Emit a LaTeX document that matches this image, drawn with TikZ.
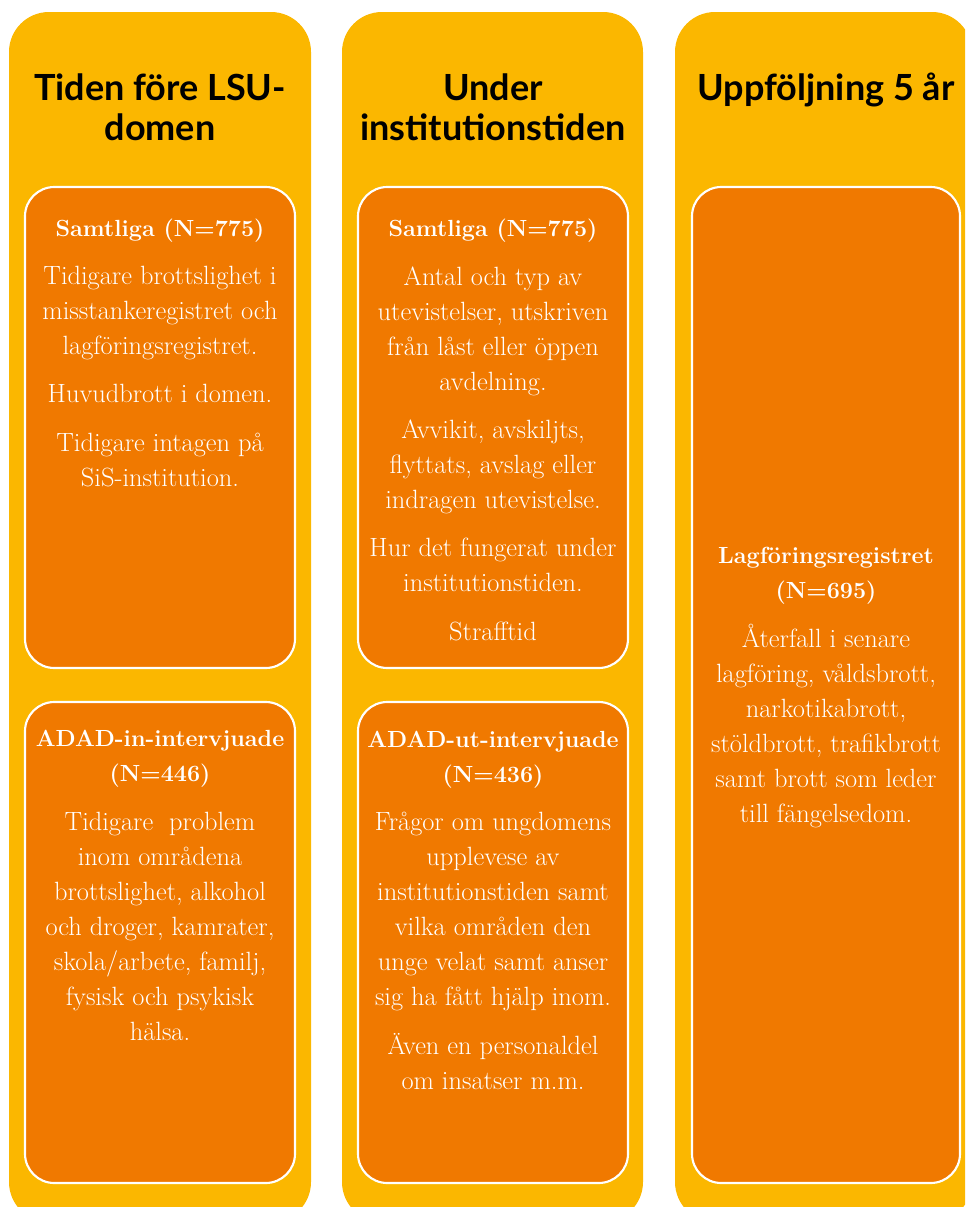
\documentclass[tikz,border=0pt]{standalone}
\usepackage{fontspec}
\newfontfamily\headfont{Lato}
\definecolor{colbg}{HTML}{FBB700}
\definecolor{boxbg}{HTML}{F07900}
\newcommand\boxtitle[1]{{\fontsize{17.5}{26.25}\selectfont\bfseries #1}}
\begin{document}
\begin{tikzpicture}[x=0.75pt,y=-0.75pt,
    column/.style={fill=colbg,rounded corners=30pt},
    panel/.style={fill=boxbg,draw=white,line width=1.6pt,rounded corners=22pt},
    head/.style={font=\headfont\bfseries\fontsize{27}{30}\selectfont,align=center,anchor=base,inner sep=0pt},
    body/.style={font=\fontsize{19.8}{26.25}\selectfont,text=white,align=center,anchor=base,inner sep=0pt}]
  \useasboundingbox (0,0) rectangle (965,1207);
  \clip (0,0) rectangle (965,1207);
  % columns
  \fill[column] (9,12) rectangle (311,1222);
  \fill[column] (342,12) rectangle (643,1222);
  \fill[column] (675,12) rectangle (972,1222);
  % panels
  \filldraw[panel] (25,187) rectangle (295,668);
  \filldraw[panel] (25,702) rectangle (295,1183);
  \filldraw[panel] (358,187) rectangle (628,668);
  \filldraw[panel] (358,702) rectangle (628,1183);
  \filldraw[panel] (692,187) rectangle (960,1183);
  % headings (base = last line)
  \node[head] (before) at (160,140) {Tiden före LSU-\\domen};
  \node[head] (during) at (493,140) {Under\\institutionstiden};
  \node[head] (after) at (826,100) {Uppföljning 5 år};
  % texts
  \node[body] (beforeall) at (160,486) {\boxtitle{Samtliga (N=775)}\\[10pt]
    Tidigare brottslighet i\\misstankeregistret och\\lagföringsregistret.\\[10pt]
    Huvudbrott i domen.\\[10pt]
    Tidigare intagen på\\SiS-institution.};
  \node[body] (beforeadad) at (160,1040) {\boxtitle{ADAD-in-intervjuade}\\\boxtitle{(N=446)}\\[10pt]
    Tidigare\ \ problem\\inom områdena\\brottslighet, alkohol\\och droger, kamrater,\\skola/arbete, familj,\\fysisk och psykisk\\hälsa.};
  \node[body] (duringall) at (493,640) {\boxtitle{Samtliga (N=775)}\\[10pt]
    Antal och typ av\\utevistelser, utskriven\\från låst eller öppen\\avdelning.\\[10pt]
    Avvikit, avskiljts,\\flyttats, avslag eller\\indragen utevistelse.\\[10pt]
    Hur det fungerat under\\institutionstiden.\\[10pt]
    Strafftid};
  \node[body] (duringadad) at (493,1089) {\boxtitle{ADAD-ut-intervjuade}\\\boxtitle{(N=436)}\\[10pt]
    Frågor om ungdomens\\upplevese av\\institutionstiden samt\\vilka områden den\\unge velat samt anser\\sig ha fått hjälp inom.\\[10pt]
    Även en personaldel\\om insatser m.m.};
  \node[body] (afterreg) at (826,822) {\boxtitle{Lagföringsregistret}\\\boxtitle{(N=695)}\\[10pt]
    Återfall i senare\\lagföring, våldsbrott,\\narkotikabrott,\\stöldbrott, trafikbrott\\samt brott som leder\\till fängelsedom.};
\end{tikzpicture}
\end{document}
